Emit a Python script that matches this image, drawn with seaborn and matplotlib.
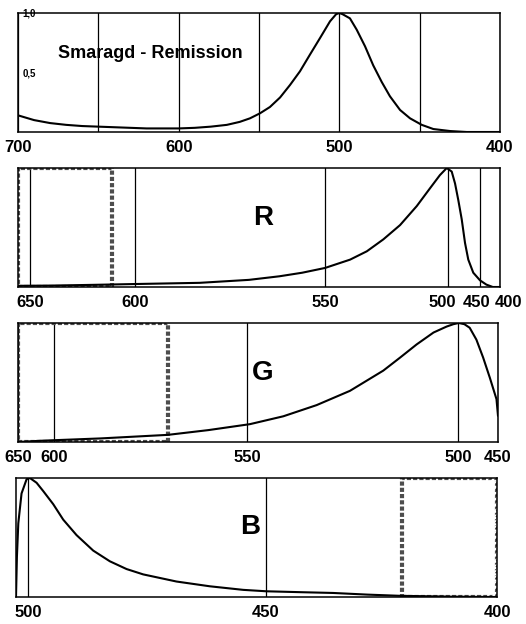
import numpy as np
import matplotlib
matplotlib.use("Agg")
import matplotlib.pyplot as plt
import matplotlib.transforms as mtransforms
import seaborn as sns

# Panel 1: Smaragd remission curve (wavelength nm, relative value)
smaragd_nm = [700, 690, 680, 670, 660, 650, 640, 630, 620, 610, 600, 590, 580, 570,
              562, 555.6, 549.4, 543.2, 536.9, 530.7, 524.5, 518.3, 512, 505.8, 502,
              500, 498, 493.4, 489.2, 484, 478.9, 473.6, 468.5, 462.2, 456, 448.7,
              441.5, 431, 420.7, 410, 400]
smaragd_rem = [0.14, 0.10, 0.075, 0.06, 0.05, 0.045, 0.04, 0.035, 0.03, 0.03, 0.03,
               0.035, 0.045, 0.06, 0.085, 0.115, 0.157, 0.21, 0.29, 0.395, 0.51, 0.65,
               0.79, 0.93, 0.99, 1.0, 0.99, 0.955, 0.86, 0.72, 0.56, 0.42, 0.30,
               0.185, 0.115, 0.06, 0.025, 0.008, 0.0, 0.0, 0.0]

# Panel 2: R
r_nm = [655.7, 640, 620, 600, 583, 570, 562, 556, 550, 539.8, 533, 526.3, 519.5,
        512.7, 507.3, 503.3, 500.5, 494.2, 489, 483.9, 478.6, 473.4, 468.3, 460.5,
        450, 434, 418, 400]
r_val = [0.01, 0.012, 0.018, 0.025, 0.035, 0.06, 0.09, 0.12, 0.16, 0.23, 0.30,
         0.40, 0.52, 0.68, 0.83, 0.94, 1.0, 0.97, 0.87, 0.73, 0.57, 0.37, 0.23,
         0.12, 0.056, 0.02, 0.0, 0.0]

# Panel 3: G
g_nm = [650, 620, 600, 588, 570.5, 560, 549.3, 541.4, 533.5, 525.6, 517.7, 513.7,
        509.8, 505.8, 502.7, 501.1, 499, 492, 485.4, 477, 468.6, 460.2, 451.9, 450]
g_val = [0.0, 0.01, 0.015, 0.03, 0.06, 0.1, 0.15, 0.216, 0.31, 0.43, 0.60, 0.71,
         0.82, 0.92, 0.97, 0.99, 1.0, 0.99, 0.96, 0.86, 0.71, 0.54, 0.36, 0.22]

# Panel 4: B
b_nm = [502.6, 502.4, 502.1, 501.4, 500.3, 499.6, 498.2, 496.8, 494.7, 492.6, 489.8,
        486.3, 482.8, 479.3, 475.8, 468.8, 461.8, 454.8, 449.9, 442, 435.5, 428,
        421, 410, 400]
b_val = [0.0, 0.34, 0.62, 0.87, 0.99, 1.0, 0.96, 0.89, 0.78, 0.65, 0.52, 0.39,
         0.30, 0.235, 0.19, 0.13, 0.09, 0.06, 0.048, 0.04, 0.034, 0.02, 0.01,
         0.003, 0.0]

# non-linear wavelength scales of the hand drawn panels (nm -> relative position)
scale_nm = {
    "S": [400, 700],
    "R": [400, 450, 500, 550, 600, 650, 655.7],
    "G": [450, 500, 550, 600, 650],
    "B": [400, 450, 500, 502.6],
}
scale_pos = {
    "S": [0, 482],
    "R": [0, 20, 52, 175, 365, 470, 482],
    "G": [0, 40, 251, 444, 480],
    "B": [0, 231, 469, 481],
}

tick_nm = {
    "S": [700, 650, 600, 550, 500, 450, 400],
    "R": [650, 600, 550, 500, 450, 400],
    "G": [650, 600, 550, 500, 450],
    "B": [500, 450, 400],
}
tick_lab = {
    "S": ["700", "", "600", "", "500", "", "400"],
    "R": ["650", "600", "550", "500", "450", "400"],
    "G": ["650", "600", "550", "500", "450"],
    "B": ["500", "450", "400"],
}
# crowded labels on the R axis are nudged sideways (pixels)
label_shift = {"R": {"500": -6, "450": -3, "400": 9}}
filter_box = {"R": (655.7, 611), "G": (650, 570.5), "B": (420.6, 400)}
filter_edge = {"B": (402.2, 400)}

sns.set_style("white")
plt.rcParams["font.family"] = ["Liberation Sans", "DejaVu Sans"]
plt.rcParams["text.color"] = "black"
plt.rcParams["xtick.color"] = "black"
plt.rcParams["ytick.color"] = "black"
plt.rcParams["hatch.color"] = "0.3"

fig = plt.figure(figsize=(5.26, 6.24), dpi=100)
W, H = 526, 624
boxes = {"S": (18, 13, 500, 132), "R": (18, 168, 500, 287),
         "G": (18, 323, 498, 442), "B": (16, 478, 497, 597)}
curves = {"S": (smaragd_nm, smaragd_rem), "R": (r_nm, r_val),
          "G": (g_nm, g_val), "B": (b_nm, b_val)}
letters = {"S": ("Smaragd - Remission", 0.274, 0.66, 13),
           "R": ("R", 0.508, 0.58, 20),
           "G": ("G", 0.509, 0.58, 20),
           "B": ("B", 0.486, 0.59, 20)}

for key in ["S", "R", "G", "B"]:
    x0, y0, x1, y1 = boxes[key]
    ax = fig.add_axes([x0 / W, 1 - y1 / H, (x1 - x0) / W, (y1 - y0) / H])
    nm_pts = np.array(scale_nm[key], dtype=float)
    pos_pts = np.array(scale_pos[key], dtype=float)

    def fwd(v, a=nm_pts, b=pos_pts):
        return np.interp(v, a, b)

    def inv(v, a=nm_pts, b=pos_pts):
        return np.interp(v, b, a)

    ax.set_xscale("function", functions=(fwd, inv))
    nm, val = curves[key]
    sns.lineplot(x=nm, y=val, ax=ax, color="black", lw=1.5)

    if key in filter_box:
        a, b = filter_box[key]
        ax.axvspan(a, b, fill=False, edgecolor="0.3", lw=3, ls=(0, (1, 0.5)))
    if key in filter_edge:
        a, b = filter_edge[key]
        ax.axvspan(a, b, fill=False, hatch="//////", lw=0)

    ax.set_xlim(nm_pts.max(), nm_pts.min())
    ax.set_ylim(0, 1.0)
    ax.set_xticks(tick_nm[key])
    ax.set_xticklabels(tick_lab[key], fontweight="bold", fontsize=12)
    ax.set_xticks(np.arange(410, 700, 10), minor=True)
    ax.tick_params(axis="x", which="major", length=0, pad=6)
    ax.tick_params(axis="x", which="minor", length=2, width=0.8,
                   direction="inout", color="0.3")
    ax.grid(True, axis="x", which="major", color="black", lw=0.9)
    ax.grid(False, axis="y")
    for sp in ax.spines.values():
        sp.set_color("black")
        sp.set_linewidth(1.1)

    shifts = label_shift.get(key, {})
    for lbl in ax.get_xticklabels():
        dx = shifts.get(lbl.get_text(), 0)
        if dx:
            lbl.set_transform(lbl.get_transform() +
                              mtransforms.ScaledTranslation(dx / 100, 0, fig.dpi_scale_trans))

    if key == "S":
        ax.set_yticks([0.5, 1.0])
        ax.set_yticklabels(["0,5", "1,0"], fontsize=7, fontweight="bold")
        ax.tick_params(axis="y", length=4, direction="inout", pad=-5)
        for lbl in ax.get_yticklabels():
            lbl.set_ha("left")
    else:
        ax.set_yticks([])
    ax.set_xlabel("")
    ax.set_ylabel("")

    txt, tx, ty, fs = letters[key]
    ax.text(tx, ty, txt, transform=ax.transAxes, ha="center", va="center",
            fontsize=fs, fontweight="bold")

fig.savefig("out.png", dpi=100)
